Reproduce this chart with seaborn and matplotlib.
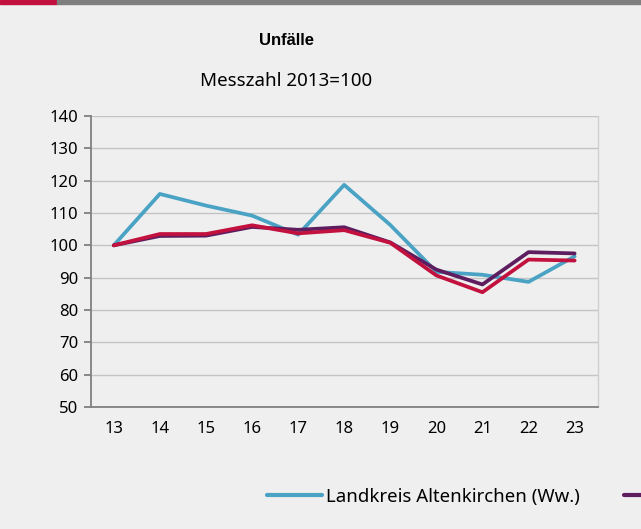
import matplotlib.pyplot as plt
import matplotlib.patches as mpatches
from matplotlib.ticker import FixedLocator
import seaborn as sns
import pandas as pd

years = ["13", "14", "15", "16", "17", "18", "19", "20", "21", "22", "23"]
altenkirchen = [100, 115.9, 112.3, 109.2, 103.3, 118.7, 106.3, 91.8, 90.9, 88.7, 96.6]
rlp = [100, 102.9, 103.0, 105.7, 104.8, 105.6, 100.9, 92.5, 87.9, 97.9, 97.5]
deutschland = [100, 103.5, 103.5, 106.2, 103.7, 104.7, 100.8, 90.7, 85.5, 95.6, 95.3]
names = ["Landkreis Altenkirchen (Ww.)", "Rheinland-Pfalz", "Deutschland"]
colors = ["#4aa3c4", "#5e1d5f", "#c2113f"]

rows = []
for name, vals in zip(names, [altenkirchen, rlp, deutschland]):
    for i, v in enumerate(vals):
        rows.append({"pos": i, "jahr": years[i], "wert": v, "gebiet": name})
df = pd.DataFrame(rows)

bg = "#eeefee"
sns.set_style("white")
plt.rcParams["font.family"] = ["Noto Sans", "DejaVu Sans"]
plt.rcParams["text.color"] = "black"

fig = plt.figure(figsize=(6.41, 5.29), dpi=100, facecolor=bg)
ax = fig.add_axes([0.1415, 0.2306, 0.7909, 0.5501])
ax.set_facecolor(bg)

sns.lineplot(data=df, x="pos", y="wert", hue="gebiet", hue_order=names,
             palette=colors, linewidth=2.7, ax=ax, legend=False)

ax.set_xlim(-0.5, len(years) - 0.5)
ax.set_ylim(50, 140)
ax.set_yticks(range(50, 141, 10))
ax.yaxis.grid(True, color="#c4c4c4", linewidth=1)
ax.set_axisbelow(True)
ax.set_xticks(range(len(years)))
ax.set_xticklabels(years)
ax.xaxis.set_minor_locator(FixedLocator([i - 0.5 for i in range(len(years) + 1)]))
ax.tick_params(axis="x", which="major", length=0, pad=10, labelsize=12, labelcolor="black")
ax.tick_params(axis="x", which="minor", length=5, width=1.3, color="#808080", direction="out")
ax.tick_params(axis="y", length=5, width=1.3, color="#808080", pad=4, labelsize=12,
               labelcolor="black", direction="out", left=True)
ax.set_xlabel("")
ax.set_ylabel("")
for s in ["left", "bottom"]:
    ax.spines[s].set_color("#808080")
    ax.spines[s].set_linewidth(1.3)
ax.spines["right"].set_color("#d0d0d0")
ax.spines["right"].set_linewidth(1)
ax.spines["top"].set_visible(False)

# top bar
fig.patches.append(mpatches.Rectangle((0, 1 - 4 / 529), 57 / 641, 4 / 529,
                                      transform=fig.transFigure, color="#c2113f"))
fig.patches.append(mpatches.Rectangle((57 / 641, 1 - 4 / 529), 1, 4 / 529,
                                      transform=fig.transFigure, color="#7f7f7f"))

fig.text(286 / 641, 1 - 40 / 529, "Unfälle", ha="center", va="center",
         fontsize=12, fontweight="bold", family=["Liberation Sans", "DejaVu Sans"])
fig.text(286 / 641, 1 - 81 / 529, "Messzahl 2013=100", ha="center", va="center",
         fontsize=13.5)

# legend (runs past the right edge like the original)
handles = [plt.Line2D([], [], color=c, linewidth=3) for c in colors[:2]]
fig.legend(handles, [names[0], ""], loc="center left",
           bbox_to_anchor=(267 / 641, 1 - 497 / 529), ncol=2, frameon=False,
           fontsize=13.4, handlelength=2.95, handletextpad=0.2, columnspacing=2.4,
           borderpad=0, borderaxespad=0)

fig.savefig("out.png", dpi=100, facecolor=bg)
